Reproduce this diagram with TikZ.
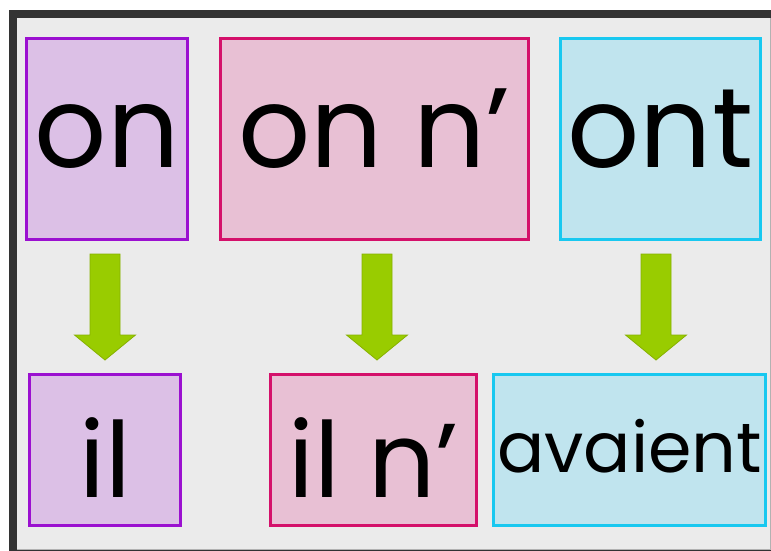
\documentclass[tikz,border=0pt]{standalone}
\usepackage{fontspec}
\setmainfont{Poppins}
\definecolor{framec}{HTML}{333333}
\definecolor{bgc}{HTML}{EBEBEB}
\definecolor{purpleB}{HTML}{9B10D0}
\definecolor{purpleF}{HTML}{DCC0E6}
\definecolor{pinkB}{HTML}{D4106A}
\definecolor{pinkF}{HTML}{E8C0D4}
\definecolor{cyanB}{HTML}{18C8F0}
\definecolor{cyanF}{HTML}{C0E4EE}
\definecolor{greenF}{HTML}{99CC00}
\definecolor{greenB}{HTML}{86B000}
\tikzset{
  box/.style={draw, line width=3.5pt, inner sep=0pt, anchor=center},
  purplebox/.style={box, draw=purpleB, fill=purpleF},
  pinkbox/.style={box, draw=pinkB, fill=pinkF},
  cyanbox/.style={box, draw=cyanB, fill=cyanF},
  bigword/.style={font=\fontsize{113}{113}\selectfont, text height=56pt, text depth=0pt},
  midword/.style={font=\fontsize{105}{105}\selectfont, text height=94pt, text depth=0pt},
  smallword/.style={font=\fontsize{70}{70}\selectfont, text height=44pt, text depth=0pt},
  arrowstyle/.style={fill=greenF, draw=greenB, line width=0.8pt, line join=miter},
  blockarrow/.pic={\draw[arrowstyle] (-15,0) -- (15,0) -- (15,-81) -- (30.5,-81) -- (0,-106) -- (-30.5,-81) -- (-15,-81) -- cycle;}
}
\begin{document}
\begin{tikzpicture}[x=1pt,y=1pt]
\useasboundingbox (0,0) rectangle (771,-551);
\fill[white] (0,0) rectangle (771,-551);
\fill[framec] (9,-10) rectangle (771,-551);
\fill[bgc] (17,-18) rectangle (770,-549);
\draw[gray!60, line width=0.8pt] (17,-549) -- (770,-549) -- (770,-18);
% top row
\node[purplebox, bigword, minimum width=161pt, minimum height=201pt] (on) at (107,-139) {on};
\node[pinkbox, bigword, minimum width=308pt, minimum height=201pt] (onn) at (374.5,-139) {on n’};
\node[cyanbox, bigword, minimum width=200pt, minimum height=201pt] (ont) at (660.5,-139) {ont};
% bottom row
\node[purplebox, midword, minimum width=151pt, minimum height=151pt] (il) at (105,-450) {il};
\node[pinkbox, midword, minimum width=206pt, minimum height=151pt] (iln) at (373.5,-450) {il n’};
\node[cyanbox, smallword, minimum width=272pt, minimum height=151pt] (av) at (629.5,-450) {avaient};
% arrows
\coordinate (a1) at (105,-254);
\coordinate (a2) at (377,-254);
\coordinate (a3) at (656,-254);
\pic at (a1) {blockarrow};
\pic at (a2) {blockarrow};
\pic at (a3) {blockarrow};
\end{tikzpicture}
\end{document}
